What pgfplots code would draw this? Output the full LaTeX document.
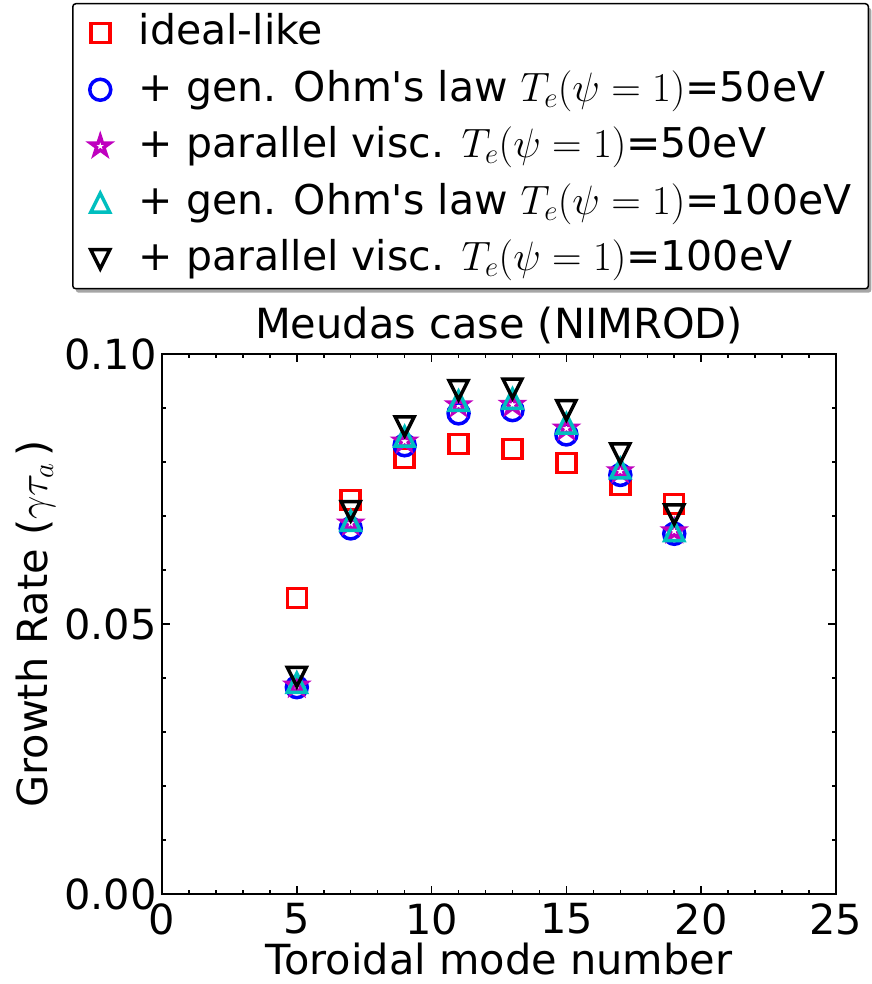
\RequirePackage{fix-cm}
\documentclass[border=0pt]{standalone}
\usepackage{fontspec}
\setmainfont{DejaVu Sans}[Ligatures=TeXOff]
\usepackage{pgfplots}
\pgfplotsset{compat=1.18}
\usetikzlibrary{shadows}

\definecolor{mplm}{rgb}{0.75,0,0.75}
\definecolor{mplc}{rgb}{0,0.75,0.75}

\pgfdeclareplotmark{mpltriup}{%
  \pgfpathmoveto{\pgfpoint{0pt}{\pgfplotmarksize}}%
  \pgfpathlineto{\pgfpoint{-\pgfplotmarksize}{-\pgfplotmarksize}}%
  \pgfpathlineto{\pgfpoint{\pgfplotmarksize}{-\pgfplotmarksize}}%
  \pgfpathclose\pgfusepathqstroke}
\pgfdeclareplotmark{mpltridown}{%
  \pgfpathmoveto{\pgfpoint{0pt}{-\pgfplotmarksize}}%
  \pgfpathlineto{\pgfpoint{-\pgfplotmarksize}{\pgfplotmarksize}}%
  \pgfpathlineto{\pgfpoint{\pgfplotmarksize}{\pgfplotmarksize}}%
  \pgfpathclose\pgfusepathqstroke}
\pgfdeclareplotmark{mplstar}{%
  \pgfpathmoveto{\pgfpoint{0pt}{\pgfplotmarksize}}%
  \pgfpathlineto{\pgfpoint{-0.2245\pgfplotmarksize}{0.3090\pgfplotmarksize}}%
  \pgfpathlineto{\pgfpoint{-0.9511\pgfplotmarksize}{0.3090\pgfplotmarksize}}%
  \pgfpathlineto{\pgfpoint{-0.3633\pgfplotmarksize}{-0.1180\pgfplotmarksize}}%
  \pgfpathlineto{\pgfpoint{-0.5878\pgfplotmarksize}{-0.8090\pgfplotmarksize}}%
  \pgfpathlineto{\pgfpoint{0pt}{-0.382\pgfplotmarksize}}%
  \pgfpathlineto{\pgfpoint{0.5878\pgfplotmarksize}{-0.8090\pgfplotmarksize}}%
  \pgfpathlineto{\pgfpoint{0.3633\pgfplotmarksize}{-0.1180\pgfplotmarksize}}%
  \pgfpathlineto{\pgfpoint{0.9511\pgfplotmarksize}{0.3090\pgfplotmarksize}}%
  \pgfpathlineto{\pgfpoint{0.2245\pgfplotmarksize}{0.3090\pgfplotmarksize}}%
  \pgfpathclose\pgfusepathqstroke}

\begin{document}
\begin{tikzpicture}
\useasboundingbox (-162pt,-90pt) rectangle (709pt,894pt);
\begin{axis}[
  scale only axis,
  width=674pt, height=540pt,
  xmin=0, xmax=25, ymin=0, ymax=0.1,
  xtick={0,5,10,15,20,25},
  ytick={0,0.05,0.1},
  minor x tick num=4,
  minor y tick num=4,
  tick align=inside,
  xtick pos=both, ytick pos=both,
  major tick length=8pt, minor tick length=4pt,
  every tick/.style={black, line width=1.5pt},
  axis line style={line width=2.5pt},
  font=\fontsize{41.5}{50}\selectfont,
  /pgf/number format/assume math mode=true,
  yticklabel style={/pgf/number format/fixed, /pgf/number format/fixed zerofill, /pgf/number format/precision=2, inner sep=0pt, xshift=-5pt},
  scaled y ticks=false,
  xticklabel style={inner sep=0pt, yshift=-9pt},
  title={Meudas case (NIMROD)},
  title style={at={(0.5,1)}, anchor=base, yshift=9pt},
  xlabel={Toroidal mode number},
  xlabel style={at={(axis description cs:0.5,-0.149)}, anchor=base, inner sep=0pt},
  ylabel={Growth Rate ($\gamma\tau_a$\,)},
  ylabel style={at={(axis description cs:-0.188,0.5)}, anchor=center},
  legend style={at={(axis description cs:-0.1335,1.65)}, anchor=north west,
    draw=black, line width=1.5pt, fill=white, rounded corners=3pt,
    drop shadow={shadow xshift=3pt, shadow yshift=-4pt, fill=gray!70, opacity=1},
    font=\fontsize{41}{50}\selectfont,
    inner xsep=17pt, inner ysep=5pt,
    row sep=7.5pt, column sep=28pt,
    nodes={inner sep=0pt, text height=36pt, text depth=13pt}},
  legend cell align=left,
  legend image code/.code={\draw[mark repeat=2,mark phase=2,#1] plot coordinates {(0pt,0pt) (16pt,0pt) (32pt,0pt)};},
]
\addplot[only marks, color=red, mark=square, mark size=9.5pt, mark options={line width=3.5pt, line join=miter}]
  coordinates {(5,0.0548) (7,0.0730) (9,0.0807) (11,0.0833) (13,0.0824) (15,0.0798) (17,0.0757) (19,0.0722)};
\addlegendentry{ideal-like}
\addplot[only marks, color=blue, mark=o, mark size=10.5pt, mark options={line width=3.5pt}]
  coordinates {(5,0.0383) (7,0.0677) (9,0.0831) (11,0.0890) (13,0.0896) (15,0.0851) (17,0.0776) (19,0.0667)};
\addlegendentry{+ gen. Ohm's law $T_e(\psi=1)$=50eV}
\addplot[only marks, color=mplm, mark=mplstar, mark size=10pt, mark options={line width=3.5pt, line join=miter}]
  coordinates {(5,0.0386) (7,0.0686) (9,0.0838) (11,0.0905) (13,0.0906) (15,0.0862) (17,0.0783) (19,0.0672)};
\addlegendentry{+ parallel visc. $T_e(\psi=1)$=50eV}
\addplot[only marks, color=mplc, mark=mpltriup, mark size=9.5pt, mark options={line width=3.5pt, line join=miter}]
  coordinates {(5,0.0391) (7,0.0691) (9,0.0847) (11,0.0913) (13,0.0917) (15,0.0871) (17,0.0788) (19,0.0672)};
\addlegendentry{+ gen. Ohm's law $T_e(\psi=1)$=100eV}
\addplot[only marks, color=black, mark=mpltridown, mark size=9.5pt, mark options={line width=3.5pt, line join=miter}]
  coordinates {(5,0.0402) (7,0.0709) (9,0.0866) (11,0.0933) (13,0.0936) (15,0.0896) (17,0.0816) (19,0.0703)};
\addlegendentry{+ parallel visc. $T_e(\psi=1)$=100eV}
\end{axis}
\end{tikzpicture}
\end{document}
